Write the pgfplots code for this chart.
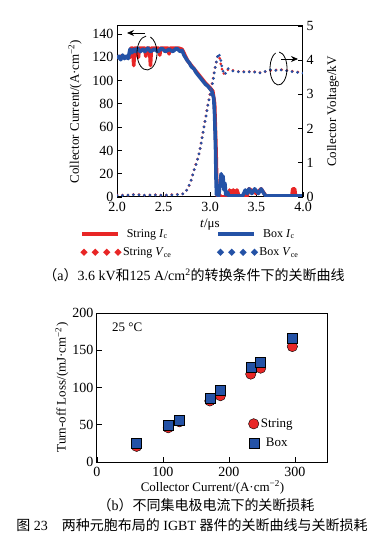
\documentclass[border=0pt]{standalone}
\usepackage{pgfplots}
\pgfplotsset{compat=1.18}
\usepackage{fontspec}
\setmainfont{Liberation Serif}
\newfontfamily\cjk{Noto Sans CJK SC}
\usetikzlibrary{arrows.meta}
\definecolor{sred}{RGB}{232,38,38}
\definecolor{bblue}{RGB}{36,82,166}

\pgfplotstableread{
t Ic
2.00 120
2.05 121
2.10 120
2.14 120
2.15 128
2.17 128
2.18 113
2.19 128
2.22 128
2.23 120
2.24 128
2.30 128
2.31 121
2.32 128
2.35 128
2.36 113
2.37 128
2.45 128
2.46 122
2.47 128
2.55 128
2.56 123
2.57 128
2.66 128
2.70 127
2.73 122
2.76 117
2.80 113
2.85 108
2.90 103
2.95 98
3.00 94
3.03 91
3.05 80
3.065 40
3.075 5
3.08 0
3.10 2
3.12 0
3.20 0
3.21 6
3.23 2
3.25 6
3.27 2
3.29 6
3.31 1
3.40 1
3.42 7
3.50 3
3.55 7
3.60 1
3.88 1
3.89 7
3.91 7
3.92 1
4.00 1
}\stringIc

\pgfplotstableread{
t Ic
2.00 119
2.02 121
2.04 118
2.06 122
2.08 119
2.10 121
2.12 119
2.14 127
2.16 124
2.18 127
2.20 125
2.22 128
2.25 125
2.28 127
2.30 125
2.33 128
2.36 125
2.40 127
2.44 125
2.48 128
2.52 125
2.56 127
2.60 125
2.64 128
2.68 125
2.70 126
2.72 122
2.75 118
2.78 115
2.80 112
2.83 110
2.85 107
2.88 104
2.90 102
2.93 99
2.95 97
2.98 95
3.00 93
3.02 91
3.04 85
3.05 70
3.06 40
3.065 15
3.07 2
3.08 10
3.09 0
3.10 5
3.12 20
3.13 12
3.14 18
3.15 6
3.16 12
3.17 2
3.19 4
3.20 1
3.35 1
3.38 6
3.40 3
3.42 7
3.45 3
3.48 7
3.52 3
3.55 7
3.58 3
3.60 1
4.00 1
}\boxIc

\pgfplotstableread{
t V
2.00 0.06
2.10 0.05
2.20 0.08
2.30 0.05
2.40 0.07
2.50 0.05
2.60 0.07
2.70 0.08
2.74 0.15
2.77 0.30
2.795 0.48
2.82 0.70
2.84 0.90
2.865 1.10
2.885 1.30
2.90 1.52
2.925 1.90
2.95 2.28
2.97 2.60
2.995 2.95
3.025 3.35
3.045 3.65
3.065 3.92
3.085 4.15
3.105 4.05
3.12 3.82
3.145 3.60
3.17 3.66
3.20 3.74
3.25 3.70
3.30 3.67
3.35 3.66
3.40 3.68
3.45 3.65
3.50 3.67
3.55 3.63
3.60 3.67
3.65 3.70
3.70 3.71
3.75 3.73
3.80 3.71
3.85 3.69
3.90 3.67
3.95 3.65
4.00 3.64
}\stringV

\pgfplotstableread{
t V
2.00 0.05
2.10 0.05
2.20 0.07
2.30 0.05
2.40 0.06
2.50 0.05
2.60 0.06
2.70 0.08
2.73 0.12
2.76 0.25
2.785 0.40
2.81 0.60
2.83 0.80
2.857 1.00
2.875 1.20
2.89 1.35
2.91 1.65
2.935 2.05
2.96 2.40
2.98 2.72
3.005 3.03
3.035 3.42
3.05 3.70
3.07 3.98
3.09 4.20
3.11 4.10
3.125 3.85
3.15 3.58
3.17 3.62
3.197 3.76
3.25 3.68
3.30 3.66
3.35 3.65
3.40 3.67
3.45 3.64
3.50 3.66
3.55 3.62
3.60 3.68
3.65 3.72
3.70 3.70
3.75 3.72
3.80 3.70
3.85 3.68
3.90 3.66
3.95 3.64
4.00 3.62
}\boxV

\pgfplotstableread{
x y
60 21
108 46
125 54
171 82
187 89
233 118
248 126
296 155
}\stringLoss

\pgfplotstableread{
x y
60 25
108 50
125 56
171 85
187 96
233 127
248 134
296 166
}\boxLoss

\pgfplotsset{
  every axis/.append style={
    scale only axis,
    tick align=inside,
    axis line style={line width=1pt},
    every tick/.style={line width=0.9pt, black},
    major tick length=5pt,
    /pgf/number format/assume math mode=true,
    ticklabel style={font=\fontsize{14}{14}\selectfont},
    xticklabel style={yshift=-1.5pt},
    label style={font=\fontsize{13}{13}\selectfont},
  },
  lineleg/.style={legend image code/.code={\draw[##1] (0pt,0pt) -- (36pt,0pt);}},
  dotleg/.style={legend image code/.code={\foreach \x in {2,13.3,24.7,36}{\fill[##1, solid] (\x pt,0pt) circle (1.5pt);}}},
}

\begin{document}
\begin{tikzpicture}
\path[use as bounding box] (0,0) rectangle (385pt,539pt);

% ---- top axis (current)
\begin{axis}[
  at={(117pt,342pt)}, anchor=south west,
  width=186pt, height=171pt,
  xmin=2, xmax=4, ymin=0, ymax=147,
  xtick={2,2.5,3,3.5,4},
  ytick={0,20,40,60,80,100,120,140},
  xtick pos=bottom, ytick pos=left,
  xticklabel style={/pgf/number format/.cd, fixed, fixed zerofill, precision=1},
  xlabel={\textit{t}/μs},
  ylabel={Collector Current/(A·cm\textsuperscript{−2})},
  xlabel style={at={(axis description cs:0.5,-0.16)}, anchor=center},
  ylabel style={at={(axis description cs:-0.226,0.5)}, anchor=center},
]
\addplot[sred, line width=3.6pt, line join=round] table[x=t, y=Ic] {\stringIc};
\addplot[bblue, line width=3.6pt, line join=round] table[x=t, y=Ic] {\boxIc};
\end{axis}

% ---- top axis (voltage, right)
\begin{axis}[
  at={(117pt,342pt)}, anchor=south west,
  width=186pt, height=171pt,
  xmin=2, xmax=4, ymin=0, ymax=5,
  hide x axis,
  axis y line*=right,
  ytick={0,1,2,3,4,5},
  ylabel={Collector Voltage/kV},
  ylabel style={at={(axis description cs:1.161,0.5)}, anchor=center},
  legend columns=2,
  legend style={at={(axis description cs:-0.2,-0.175)}, anchor=north west,
    draw=none, fill=none, inner sep=0pt, row sep=5pt,
    font=\fontsize{12}{12}\selectfont,
    /tikz/every even column/.append style={column sep=43pt}},
]
\addlegendimage{sred, line width=4pt, lineleg}
\addlegendentry{String \textit{I}\textsubscript{c}}
\addlegendimage{bblue, line width=4pt, lineleg}
\addlegendentry{Box \textit{I}\textsubscript{c}}
\addplot[sred, line width=3pt, line cap=round, dash pattern=on 0pt off 5.5pt, dotleg] table[x=t, y=V] {\stringV};
\addlegendentry{String \textit{V}\textsubscript{ce}}
\addplot[bblue, line width=3pt, line cap=round, dash pattern=on 0pt off 5.5pt, dotleg] table[x=t, y=V] {\boxV};
\addlegendentry{Box \textit{V}\textsubscript{ce}}
\end{axis}

% direction annotations
\draw[line width=0.8pt] (147pt,486pt) ++(95:10pt and 17pt) arc[start angle=95, end angle=430, x radius=10pt, y radius=17pt];
\draw[line width=0.8pt, -{Stealth[length=7pt,width=6pt]}] (145pt,506pt) -- (127pt,506pt);
\draw[line width=0.8pt] (278.5pt,470.5pt) ++(85:8.5pt and 16.5pt) arc[start angle=85, end angle=-250, x radius=8.5pt, y radius=16.5pt];
\draw[line width=0.8pt, -{Stealth[length=7pt,width=6pt]}] (281pt,480pt) -- (298pt,480pt);

% ---- bottom axis
\begin{axis}[
  at={(97pt,77pt)}, anchor=south west,
  width=231pt, height=149pt,
  xmin=0, xmax=350, ymin=0, ymax=200,
  xtick={0,100,200,300}, ytick={0,50,100,150,200},
  xtick pos=bottom, ytick pos=left,
  xlabel={Collector Current/(A·cm\textsuperscript{−2})},
  ylabel={Turn-off Loss/(mJ·cm\textsuperscript{−2})},
  xlabel style={at={(axis description cs:0.5,-0.17)}, anchor=center},
  ylabel style={at={(axis description cs:-0.152,0.5)}, anchor=center},
  legend style={at={(axis description cs:0.655,0.305)}, anchor=north west,
    draw=none, fill=none, inner sep=0pt, row sep=5pt,
    font=\fontsize{13}{13}\selectfont},
]
\addplot[only marks, mark=*, mark size=5.2pt, mark options={draw=none, fill=sred}] table[x=x, y=y] {\stringLoss};
\addlegendentry{String}
\addplot[only marks, mark=square*, mark size=5pt, mark options={draw=none, fill=bblue}] table[x=x, y=y] {\boxLoss};
\addlegendentry{Box}
\node[anchor=west, font=\fontsize{13}{13}\selectfont] at (axis description cs:0.05,0.906) {25 °C};
\end{axis}

% captions
\node[font=\fontsize{14}{14}\selectfont] at (194pt,264pt) {{\cjk （}a{\cjk ）}3.6 kV{\cjk 和}125 A/cm\textsuperscript{2}{\cjk 的转换条件下的关断曲线}};
\node[font=\fontsize{14}{14}\selectfont] at (206pt,34pt) {{\cjk （}b{\cjk ）不同集电极电流下的关断损耗}};
\node[font=\fontsize{14}{14}\selectfont] at (192pt,14pt) {{\cjk 图} 23\quad{\cjk 两种元胞布局的} IGBT {\cjk 器件的关断曲线与关断损耗}};
\end{tikzpicture}
\end{document}
